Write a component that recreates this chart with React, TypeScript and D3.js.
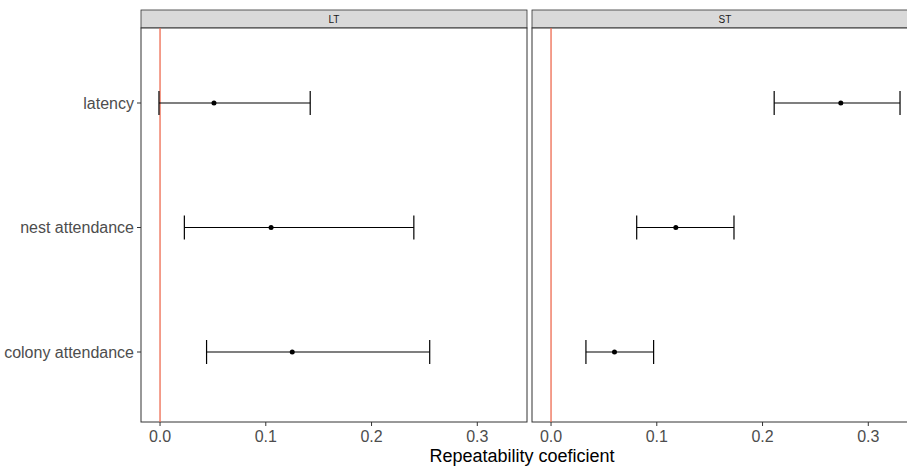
import React from 'react';
import * as d3 from 'd3';

const traits = ['latency', 'nest attendance', 'colony attendance'];
const panels = ['LT', 'ST'];
const estimates: Record<string, number[]> = { LT: [0.051, 0.105, 0.125], ST: [0.274, 0.118, 0.06] };
const lowerCI: Record<string, number[]> = { LT: [-0.001, 0.023, 0.044], ST: [0.211, 0.081, 0.033] };
const upperCI: Record<string, number[]> = { LT: [0.142, 0.24, 0.255], ST: [0.33, 0.173, 0.097] };
const xTicks = [0, 0.1, 0.2, 0.3];

export default function App() {
  const W = 907, H = 468;
  const top = 10, strip = 18, bottom = 422;
  const panelX = [141, 532];
  const panelW = 386;
  const y = d3.scalePoint<string>().domain(traits).range([103, 352]);
  const font = 'Liberation Sans, Arial, sans-serif';
  return (
    <svg width={W} height={H} style={{ position: 'absolute', left: 0, top: 0, background: '#fff' }}>
      {panels.map((p, pi) => {
        const x0 = panelX[pi];
        const x = d3.scaleLinear().domain([-0.018, 0.347]).range([x0, x0 + panelW]);
        return (
          <g key={p}>
            <rect x={x0} y={top} width={panelW} height={strip} fill="#d9d9d9" stroke="#333" strokeWidth={0.8} />
            <text x={x0 + panelW / 2} y={top + 13} textAnchor="middle" fontSize={10} fontFamily={font} fill="#1a1a1a">{p}</text>
            <rect x={x0} y={top + strip} width={panelW} height={bottom - top - strip} fill="#fff" stroke="#333" strokeWidth={1} />
            <line x1={x(0)} x2={x(0)} y1={top + strip} y2={bottom} stroke="#ee6a50" strokeWidth={1.3} />
            {traits.map((t, i) => {
              const yy = y(t)!;
              return (
                <g key={t}>
                  <line x1={x(lowerCI[p][i])} x2={x(upperCI[p][i])} y1={yy} y2={yy} stroke="#000" strokeWidth={1.2} />
                  <line x1={x(lowerCI[p][i])} x2={x(lowerCI[p][i])} y1={yy - 12} y2={yy + 12} stroke="#000" strokeWidth={1.2} />
                  <line x1={x(upperCI[p][i])} x2={x(upperCI[p][i])} y1={yy - 12} y2={yy + 12} stroke="#000" strokeWidth={1.2} />
                  <circle cx={x(estimates[p][i])} cy={yy} r={2.5} fill="#000" />
                </g>
              );
            })}
            {xTicks.map(v => (
              <g key={v}>
                <line x1={x(v)} x2={x(v)} y1={bottom} y2={bottom + 4} stroke="#333" />
                <text x={x(v)} y={bottom + 20} textAnchor="middle" fontSize={16} fontFamily={font} fill="#4d4d4d">{v.toFixed(1)}</text>
              </g>
            ))}
          </g>
        );
      })}
      {traits.map(t => (
        <g key={t}>
          <line x1={137} x2={141} y1={y(t)} y2={y(t)} stroke="#333" />
          <text x={134} y={y(t)! + 5.5} textAnchor="end" fontSize={16} fontFamily={font} fill="#4d4d4d">{t}</text>
        </g>
      ))}
      <text x={522} y={462} textAnchor="middle" fontSize={18} fontFamily={font} fill="#000">Repeatability coeficient</text>
    </svg>
  );
}
